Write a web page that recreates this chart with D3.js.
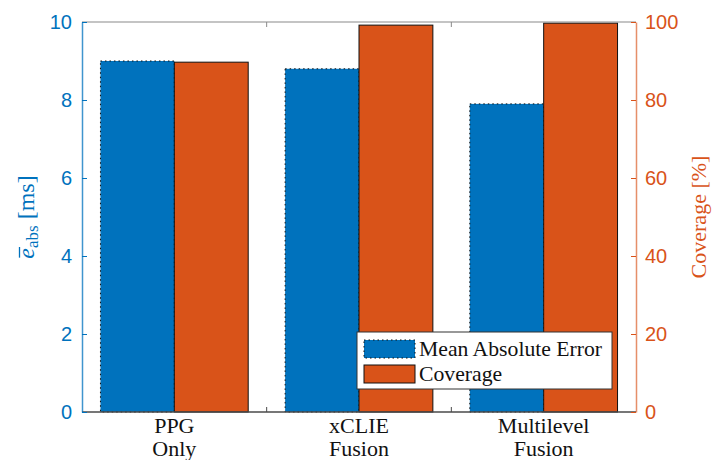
<!DOCTYPE html>
<html>
<head>
<meta charset="utf-8">
<script src="https://cdn.jsdelivr.net/npm/d3@7"></script>
<style>
  body { margin: 0; background: white; }
  svg { display: block; }
</style>
</head>
<body>
<div id="chart"></div>
<script>
const categories = [["PPG", "Only"], ["xCLIE", "Fusion"], ["Multilevel", "Fusion"]];
const maeValues = [9.0, 8.8, 7.9];          // ms, left axis
const coverageValues = [89.7, 99.2, 99.7];  // %, right axis
const leftTicks = [0, 2, 4, 6, 8, 10];
const rightTicks = [0, 20, 40, 60, 80, 100];
const seriesNames = ["Mean Absolute Error", "Coverage"];

const width = 713;
const height = 460;
const plot = {left: 82, right: 636, top: 22, bottom: 412};
const blue = "#0072BD";
const orange = "#D95319";
const serif = "'Liberation Serif', 'Times New Roman', serif";
const sans = "'Liberation Sans', Arial, Helvetica, sans-serif";

const svg = d3.select("#chart")
  .append("svg")
  .attr("width", width)
  .attr("height", height);

const x = d3.scaleBand()
  .domain(d3.range(categories.length))
  .range([plot.left, plot.right])
  .paddingInner(0.2)
  .paddingOuter(0.1);

const xInner = d3.scaleBand()
  .domain([0, 1])
  .range([0, x.bandwidth()]);

const yLeft = d3.scaleLinear().domain([0, 10]).range([plot.bottom, plot.top]);
const yRight = d3.scaleLinear().domain([0, 100]).range([plot.bottom, plot.top]);

// bars
const groups = svg.selectAll("g.group")
  .data(categories)
  .enter()
  .append("g")
  .attr("class", "group")
  .attr("transform", (d, i) => `translate(${x(i)},0)`);

groups.append("rect")
  .attr("x", xInner(0))
  .attr("width", xInner.bandwidth())
  .attr("y", (d, i) => yLeft(maeValues[i]))
  .attr("height", (d, i) => plot.bottom - yLeft(maeValues[i]))
  .attr("fill", blue)
  .attr("stroke", "#111")
  .attr("stroke-width", 1)
  .attr("stroke-dasharray", "1.5,3");

groups.append("rect")
  .attr("x", xInner(1))
  .attr("width", xInner.bandwidth())
  .attr("y", (d, i) => yRight(coverageValues[i]))
  .attr("height", (d, i) => plot.bottom - yRight(coverageValues[i]))
  .attr("fill", orange)
  .attr("stroke", "#111")
  .attr("stroke-width", 1);

// box lines
svg.append("line")
  .attr("x1", plot.left).attr("x2", plot.right)
  .attr("y1", plot.top).attr("y2", plot.top)
  .attr("stroke", "#8a8a8a").attr("stroke-width", 1.2);

svg.append("line")
  .attr("x1", plot.left).attr("x2", plot.right)
  .attr("y1", plot.bottom).attr("y2", plot.bottom)
  .attr("stroke", "#4a4a4a").attr("stroke-width", 1.5);

// x ticks between groups (bottom + top)
const step = x.step();
const xTickPos = d3.range(categories.length - 1).map(i => x(i) + x.bandwidth() / 2 + step / 2);
xTickPos.forEach(px => {
  svg.append("line")
    .attr("x1", px).attr("x2", px)
    .attr("y1", plot.bottom).attr("y2", plot.bottom - 5)
    .attr("stroke", "#4a4a4a");
  svg.append("line")
    .attr("x1", px).attr("x2", px)
    .attr("y1", plot.top).attr("y2", plot.top + 5)
    .attr("stroke", "#8a8a8a");
});

// category labels
const catLabels = svg.selectAll("text.cat")
  .data(categories)
  .enter()
  .append("text")
  .attr("class", "cat")
  .attr("text-anchor", "middle")
  .attr("font-family", serif)
  .attr("font-size", 22)
  .attr("fill", "#111");

catLabels.append("tspan")
  .attr("x", (d, i) => x(i) + x.bandwidth() / 2)
  .attr("y", 433)
  .text(d => d[0]);
catLabels.append("tspan")
  .attr("x", (d, i) => x(i) + x.bandwidth() / 2)
  .attr("y", 456)
  .text(d => d[1]);

// left axis
const leftAxis = svg.append("g")
  .attr("transform", `translate(${plot.left},0)`)
  .call(d3.axisLeft(yLeft).tickValues(leftTicks).tickSizeInner(-5).tickSizeOuter(0).tickPadding(10));
leftAxis.select(".domain").attr("stroke", blue).attr("stroke-opacity", 0.75).attr("stroke-width", 1.5);
leftAxis.selectAll(".tick line").attr("stroke", blue);
leftAxis.selectAll(".tick text")
  .attr("fill", blue)
  .attr("font-family", sans)
  .attr("font-size", 20);

// right axis
const rightAxis = svg.append("g")
  .attr("transform", `translate(${plot.right},0)`)
  .call(d3.axisRight(yRight).tickValues(rightTicks).tickSizeInner(-5).tickSizeOuter(0).tickPadding(9));
rightAxis.select(".domain").attr("stroke", orange).attr("stroke-opacity", 0.65).attr("stroke-width", 1.5);
rightAxis.selectAll(".tick line").attr("stroke", orange);
rightAxis.selectAll(".tick text")
  .attr("fill", orange)
  .attr("font-family", sans)
  .attr("font-size", 20);

// axis labels
const midY = (plot.top + plot.bottom) / 2;
const leftLabelG = svg.append("g")
  .attr("transform", `translate(34,${midY}) rotate(-90)`);
const leftLabel = leftLabelG.append("text")
  .attr("text-anchor", "middle")
  .attr("font-family", serif)
  .attr("font-size", 24)
  .attr("fill", blue);
leftLabel.append("tspan").attr("font-style", "italic").text("e");
leftLabel.append("tspan").attr("font-size", 17).attr("dy", 4).text("abs");
leftLabel.append("tspan").attr("dy", -4).text(" [ms]");

// bar over the e, placed from the glyph's measured position
const eStart = leftLabel.node().getStartPositionOfChar(0);
const eEnd = leftLabel.node().getEndPositionOfChar(0);
leftLabelG.append("line")
  .attr("x1", eStart.x + 1).attr("x2", eEnd.x + 1)
  .attr("y1", -14.5).attr("y2", -14.5)
  .attr("stroke", blue).attr("stroke-width", 1.3);

svg.append("text")
  .attr("transform", `translate(706,${midY}) rotate(-90)`)
  .attr("text-anchor", "middle")
  .attr("font-family", serif)
  .attr("font-size", 22)
  .attr("fill", orange)
  .text("Coverage [%]");

// legend
const legend = svg.append("g").attr("transform", "translate(357,332)");
legend.append("rect")
  .attr("width", 255).attr("height", 57)
  .attr("fill", "white")
  .attr("stroke", "#333").attr("stroke-width", 1);

const legendColors = [blue, orange];
const legendDash = ["1.5,3", null];
const items = legend.selectAll("g.item")
  .data(seriesNames)
  .enter()
  .append("g")
  .attr("class", "item")
  .attr("transform", (d, i) => `translate(7,${8 + i * 25})`);

items.append("rect")
  .attr("width", 51).attr("height", 18)
  .attr("fill", (d, i) => legendColors[i])
  .attr("stroke", "#111")
  .attr("stroke-dasharray", (d, i) => legendDash[i]);

items.append("text")
  .attr("x", 55)
  .attr("y", 16)
  .attr("font-family", serif)
  .attr("font-size", 21.7)
  .attr("fill", "#111")
  .text(d => d);
</script>
</body>
</html>
